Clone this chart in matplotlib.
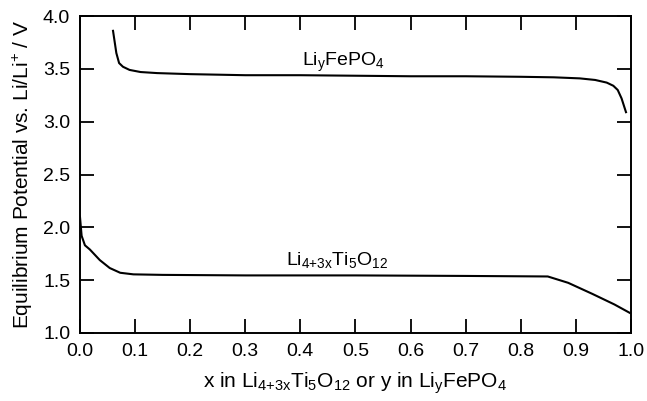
import numpy as np
import matplotlib
matplotlib.use("Agg")
import matplotlib.pyplot as plt

plt.rcParams['font.family'] = ['Liberation Sans', 'DejaVu Sans']
plt.rcParams['mathtext.fontset'] = 'custom'
plt.rcParams['mathtext.rm'] = 'Liberation Sans'
plt.rcParams['mathtext.it'] = 'Liberation Sans'

# LiyFePO4 curve
lfp_x = [0.060, 0.066, 0.071, 0.078, 0.090, 0.110, 0.140, 0.200, 0.300, 0.400,
         0.500, 0.600, 0.700, 0.800, 0.860, 0.907, 0.935, 0.956, 0.968, 0.976,
         0.983, 0.991]
lfp_v = [3.86, 3.65, 3.555, 3.52, 3.49, 3.47, 3.46, 3.45, 3.44, 3.44,
         3.435, 3.43, 3.43, 3.425, 3.42, 3.41, 3.395, 3.37, 3.34, 3.30,
         3.22, 3.09]

# Li4+3xTi5O12 curve
lto_x = [0.000, 0.003, 0.009, 0.018, 0.036, 0.054, 0.073, 0.097, 0.150, 0.300,
         0.500, 0.700, 0.849, 0.886, 0.930, 0.970, 0.998]
lto_v = [2.10, 1.92, 1.83, 1.79, 1.69, 1.615, 1.57, 1.555, 1.55, 1.545,
         1.545, 1.54, 1.535, 1.475, 1.37, 1.27, 1.19]

lfp_label = r'Li$_\mathregular{y}$FePO$_\mathregular{4}$'
lto_label = r'Li$_\mathregular{4{+}3x}$Ti$_\mathregular{5}$O$_\mathregular{12}$'

fig = plt.figure(figsize=(6.47, 4.01), dpi=100)
ax = fig.add_axes([0.1236, 0.1696, 0.8516, 0.7904])

ax.plot(lfp_x, lfp_v, color='black', lw=1.5)
ax.plot(lto_x, lto_v, color='black', lw=1.5)

ax.text(0.478, 3.56, lfp_label, ha='center', va='center', fontsize=14)
ax.text(0.467, 1.69, lto_label, ha='center', va='center', fontsize=14)

ax.set_xlim(0, 1)
ax.set_ylim(1, 4)
ax.set_xticks(np.arange(0, 1.01, 0.1))
ax.set_yticks(np.arange(1, 4.01, 0.5))
ax.xaxis.set_major_formatter(matplotlib.ticker.FormatStrFormatter('%.1f'))
ax.yaxis.set_major_formatter(matplotlib.ticker.FormatStrFormatter('%.1f'))
ax.tick_params(direction='in', length=10, width=1.3, top=True, right=True,
               labelsize=14, pad=7)
for s in ax.spines.values():
    s.set_linewidth(1.4)

ax.set_xlabel('x in ' + lto_label + ' or y in ' + lfp_label,
              fontsize=15, labelpad=8)
ax.set_ylabel(r'Equilibrium Potential vs. Li/Li$^\mathregular{+}$ / V', fontsize=15, labelpad=6)

fig.savefig('out.png', dpi=100)
